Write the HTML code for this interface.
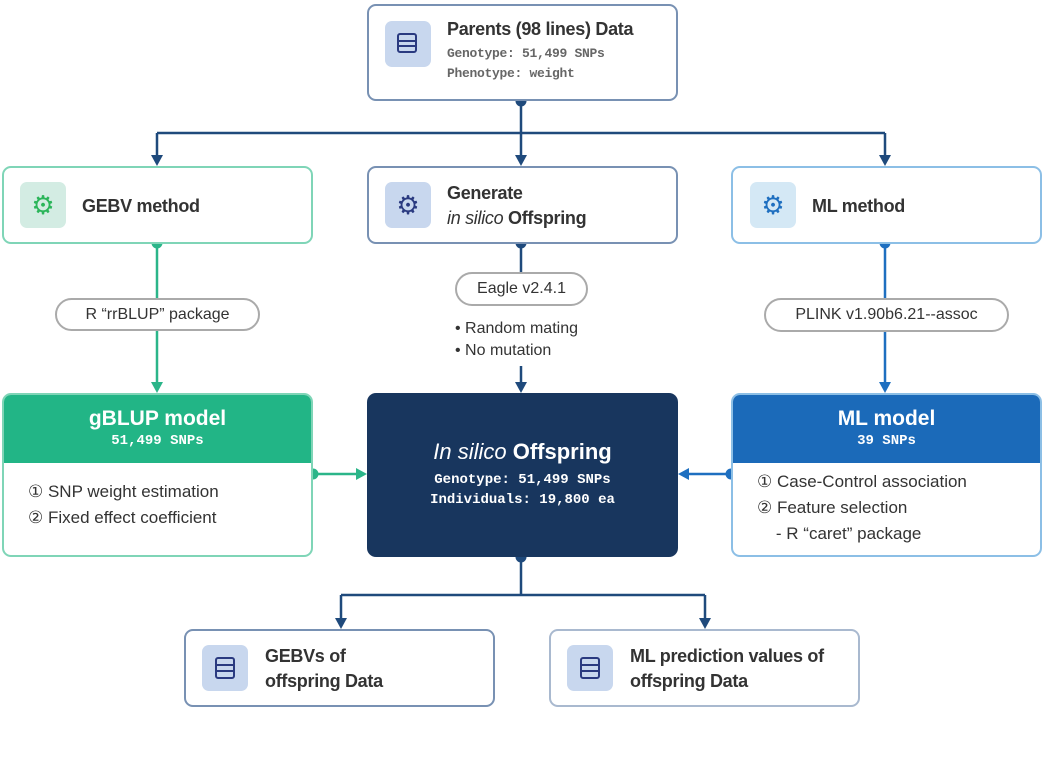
<!DOCTYPE html>
<html><head><meta charset="utf-8"><style>
body{margin:0;width:1046px;height:781px;background:#fff;font-family:"Liberation Sans",sans-serif;position:relative;overflow:hidden}
.b{position:absolute;box-sizing:border-box;border-radius:9px;background:#fff}
.ic{position:absolute;width:46px;height:46px;border-radius:7px}
.t{position:absolute;font-weight:bold;color:#333;font-size:18px;line-height:25px;letter-spacing:-0.3px}
.m{font-family:"Liberation Mono",monospace;font-weight:bold;font-size:13px}
.pill{position:absolute;box-sizing:border-box;border:2px solid #aaa;border-radius:17px;background:#fff;text-align:center;font-size:16px;color:#333}
</style></head><body>
<svg width="1046" height="781" style="position:absolute;left:0;top:0">
<defs>
<marker id="ad" markerWidth="10" markerHeight="10" refX="5" refY="9" orient="auto" markerUnits="userSpaceOnUse"><path d="M0,0 L10,0 L5,10z" fill="#1f4a7c"/></marker>
</defs>
<g stroke="#1f4a7c" stroke-width="2.5" fill="none">
<path d="M521,101 V133 M157,133 H885 M157,133 V157 M521,133 V157 M885,133 V157"/>
<path d="M521,243 V272 M521,366 V384"/>
<path d="M521,557 V595 M341,595 H705 M341,595 V620 M705,595 V620"/>
</g>
<g fill="#1f4a7c">
<path d="M151,155 L163,155 L157,166z"/><path d="M515,155 L527,155 L521,166z"/><path d="M879,155 L891,155 L885,166z"/>
<path d="M515,382 L527,382 L521,393z"/>
<path d="M335,618 L347,618 L341,629z"/><path d="M699,618 L711,618 L705,629z"/>
<circle cx="521" cy="101" r="5.5"/><circle cx="521" cy="243" r="5.5"/><circle cx="521" cy="557" r="5.5"/>
</g>
<g stroke="#2bb589" stroke-width="2.5"><path d="M157,243 V298 M157,330 V384 M313,474 H357"/></g>
<g fill="#2bb589"><circle cx="157" cy="243" r="5.5"/><path d="M151,382 L163,382 L157,393z"/><circle cx="313" cy="474" r="5.5"/><path d="M356,468 L356,480 L367,474z"/></g>
<g stroke="#1e6fc0" stroke-width="2.5"><path d="M885,243 V298 M885,331 V384 M731,474 H688"/></g>
<g fill="#1e6fc0"><circle cx="885" cy="243" r="5.5"/><path d="M879,382 L891,382 L885,393z"/><circle cx="731" cy="474" r="5.5"/><path d="M689,468 L689,480 L678,474z"/></g>
</svg>

<!-- Parents -->
<div class="b" style="left:367px;top:4px;width:311px;height:97px;border:2.5px solid #7891b3"></div>
<div class="ic" style="left:385px;top:21px;background:#c8d7ee"></div>
<div style="position:absolute;left:397px;top:33px;width:20px;height:20px;border:2px solid #2a3a80;border-radius:3px;box-sizing:border-box;background:linear-gradient(#2a3a80,#2a3a80) 0 5px/100% 2px no-repeat,linear-gradient(#2a3a80,#2a3a80) 0 10px/100% 2px no-repeat"></div>
<div class="t" style="left:447px;top:17px">Parents (98 lines) Data</div>
<div class="t m" style="left:447px;top:44px;color:#666;line-height:20px">Genotype: 51,499 SNPs<br>Phenotype: weight</div>

<!-- row 2 -->
<div class="b" style="left:2px;top:166px;width:311px;height:78px;border:2.5px solid #7fd5b7"></div>
<div class="ic" style="left:20px;top:182px;background:#d3ece3;color:#2bb55a;font-size:26px;text-align:center;line-height:46px">⚙</div>
<div class="t" style="left:82px;top:194px">GEBV method</div>

<div class="b" style="left:367px;top:166px;width:311px;height:78px;border:2.5px solid #7891b3"></div>
<div class="ic" style="left:385px;top:182px;background:#c8d7ee;color:#2a3a80;font-size:26px;text-align:center;line-height:46px">⚙</div>
<div class="t" style="left:447px;top:181px">Generate<br><i style="font-weight:normal">in silico</i> Offspring</div>

<div class="b" style="left:731px;top:166px;width:311px;height:78px;border:2.5px solid #8cbfe6"></div>
<div class="ic" style="left:750px;top:182px;background:#d4e8f5;color:#1e6fc0;font-size:26px;text-align:center;line-height:46px">⚙</div>
<div class="t" style="left:812px;top:194px">ML method</div>

<!-- pills -->
<div class="pill" style="left:55px;top:298px;width:205px;height:33px;line-height:29px">R “rrBLUP” package</div>
<div class="pill" style="left:455px;top:272px;width:133px;height:34px;line-height:30px">Eagle v2.4.1</div>
<div style="position:absolute;left:455px;top:318px;font-size:16px;color:#333;line-height:22px">• Random mating<br>• No mutation</div>
<div class="pill" style="left:764px;top:298px;width:245px;height:34px;line-height:30px">PLINK v1.90b6.21--assoc</div>

<!-- row 3 -->
<div class="b" style="left:2px;top:393px;width:311px;height:164px;border:2.5px solid #7fd5b7;overflow:hidden">
<div style="background:#22b586;height:68px;text-align:center;color:#fff">
<div style="font-size:21px;font-weight:bold;padding-top:11px;line-height:26px">gBLUP model</div>
<div class="m" style="font-size:14px;line-height:18px">51,499 SNPs</div></div>
<div style="padding:16px 0 0 24px;font-size:17px;color:#333;line-height:26px">① SNP weight estimation<br>② Fixed effect coefficient</div>
</div>

<div class="b" style="left:367px;top:393px;width:311px;height:164px;background:#18365e;text-align:center;color:#fff">
<div style="font-size:22px;font-weight:bold;margin-top:45px;line-height:28px"><i style="font-weight:normal">In silico</i> Offspring</div>
<div class="m" style="font-size:14px;line-height:20px;margin-top:4px">Genotype: 51,499 SNPs<br>Individuals: 19,800 ea</div>
</div>

<div class="b" style="left:731px;top:393px;width:311px;height:164px;border:2.5px solid #8cbfe6;overflow:hidden">
<div style="background:#1b6ab9;height:68px;text-align:center;color:#fff">
<div style="font-size:21px;font-weight:bold;padding-top:11px;line-height:26px">ML model</div>
<div class="m" style="font-size:14px;line-height:18px">39 SNPs</div></div>
<div style="padding:6px 0 0 24px;font-size:17px;color:#333;line-height:26px">① Case-Control association<br>② Feature selection<br>&nbsp;&nbsp;&nbsp;&nbsp;- R “caret” package</div>
</div>

<!-- bottom -->
<div class="b" style="left:184px;top:629px;width:311px;height:78px;border:2.5px solid #7891b3"></div>
<div class="ic" style="left:202px;top:645px;background:#c8d7ee"></div>
<div style="position:absolute;left:215px;top:657px;width:20px;height:22px;border:2px solid #2a3a80;border-radius:3px;box-sizing:border-box;background:linear-gradient(#2a3a80,#2a3a80) 0 5px/100% 2px no-repeat,linear-gradient(#2a3a80,#2a3a80) 0 11px/100% 2px no-repeat"></div>
<div class="t" style="left:265px;top:644px">GEBVs of<br>offspring Data</div>

<div class="b" style="left:549px;top:629px;width:311px;height:78px;border:2.5px solid #a9b9cf"></div>
<div class="ic" style="left:567px;top:645px;background:#c8d7ee"></div>
<div style="position:absolute;left:580px;top:657px;width:20px;height:22px;border:2px solid #2a3a80;border-radius:3px;box-sizing:border-box;background:linear-gradient(#2a3a80,#2a3a80) 0 5px/100% 2px no-repeat,linear-gradient(#2a3a80,#2a3a80) 0 11px/100% 2px no-repeat"></div>
<div class="t" style="left:630px;top:644px">ML prediction values of<br>offspring Data</div>
</body></html>
